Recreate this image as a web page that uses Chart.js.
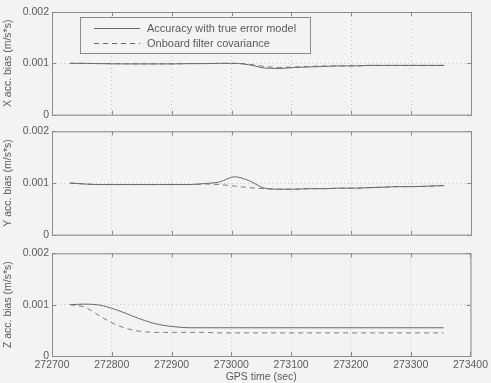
<!DOCTYPE html>
<html lang="en">
<head>
  <meta charset="UTF-8">
  <title>Accelerometer bias</title>
  <script src="https://cdn.jsdelivr.net/npm/chart.js"></script>
  <style>
    * { margin: 0; padding: 0; box-sizing: border-box; }
    body {
      width: 491px;
      height: 383px;
      background: #f3f3f1;
      position: relative;
      overflow: hidden;
      font-family: 'Liberation Sans', Arial, sans-serif;
    }
    .panel { position: absolute; left: 0; width: 491px; }
    #px { top: 0; height: 124px; }
    #py { top: 122px; height: 122px; }
    #pz { top: 244px; height: 139px; }
  </style>
</head>
<body>
  <div class="panel" id="px"><canvas id="chartX"></canvas></div>
  <div class="panel" id="py"><canvas id="chartY"></canvas></div>
  <div class="panel" id="pz"><canvas id="chartZ"></canvas></div>

  <script>
    // GPS time (sec)
    const gpsTime = [272730, 272755, 272780, 272805, 272830, 272855, 272880, 272905, 272930,
      272955, 272980, 273005, 273030, 273055, 273080, 273105, 273130, 273155, 273180,
      273205, 273230, 273255, 273280, 273305, 273330, 273355];

    const xTrue = [0.00100, 0.00100, 0.000995, 0.00099, 0.00099, 0.00099, 0.00099, 0.00099, 0.000995,
      0.000995, 0.00100, 0.00100, 0.00097, 0.00091, 0.00090, 0.00092, 0.00093, 0.00094, 0.00095,
      0.00095, 0.00096, 0.00096, 0.00096, 0.00096, 0.00096, 0.00096];
    const xFilter = [0.00100, 0.00100, 0.000995, 0.000995, 0.00099, 0.00099, 0.00099, 0.00099, 0.000995,
      0.000995, 0.00100, 0.00100, 0.00098, 0.00094, 0.00092, 0.00093, 0.00094, 0.00095, 0.00095,
      0.00095, 0.00096, 0.00096, 0.00096, 0.00096, 0.00096, 0.00096];

    const yTrue = [0.00100, 0.00098, 0.00097, 0.00097, 0.00097, 0.00097, 0.00097, 0.00097, 0.00097,
      0.00099, 0.00102, 0.00112, 0.00104, 0.00090, 0.00088, 0.00088, 0.00089, 0.00089, 0.00090,
      0.00090, 0.00091, 0.00092, 0.00093, 0.00093, 0.00094, 0.00095];
    const yFilter = [0.00100, 0.00098, 0.00097, 0.00097, 0.00097, 0.00097, 0.00097, 0.00097, 0.00097,
      0.00098, 0.00097, 0.00094, 0.00091, 0.00089, 0.00088, 0.00088, 0.00089, 0.00089, 0.00090,
      0.00090, 0.00091, 0.00092, 0.00093, 0.00093, 0.00094, 0.00095];

    const zTrue = [0.00100, 0.00101, 0.00099, 0.00091, 0.00080, 0.00069, 0.00061, 0.00057, 0.00055,
      0.00055, 0.00055, 0.00055, 0.00055, 0.00055, 0.00055, 0.00055, 0.00055, 0.00055, 0.00055,
      0.00055, 0.00055, 0.00055, 0.00055, 0.00055, 0.00055, 0.00055];
    const zFilter = [0.00100, 0.00095, 0.00078, 0.00062, 0.00052, 0.00047, 0.00046, 0.00046, 0.00046,
      0.00046, 0.00045, 0.00045, 0.00045, 0.00045, 0.00045, 0.00045, 0.00045, 0.00045, 0.00045,
      0.00045, 0.00045, 0.00045, 0.00045, 0.00045, 0.00045, 0.00045];

    const yTicks = [0, 0.001, 0.002];
    const seriesLabels = ['Accuracy with true error model', 'Onboard filter covariance'];

    const ink = '#6a6a6a';
    const textColor = '#5a5a5a';
    const font = { family: "'Liberation Sans', Arial, sans-serif", size: 10.5 };

    // box around the plot area with inward tick marks, like matlab
    const framePlugin = {
      id: 'frame',
      afterDraw(chart) {
        const { ctx, chartArea: a, scales } = chart;
        ctx.save();
        ctx.strokeStyle = '#8a8a8a';
        ctx.lineWidth = 1;
        ctx.strokeRect(a.left + 0.5, a.top + 0.5, a.right - a.left, a.bottom - a.top);
        ctx.beginPath();
        scales.x.ticks.forEach(t => {
          const px = Math.round(scales.x.getPixelForValue(t.value)) + 0.5;
          ctx.moveTo(px, a.top); ctx.lineTo(px, a.top + 4);
          ctx.moveTo(px, a.bottom); ctx.lineTo(px, a.bottom - 4);
        });
        scales.y.ticks.forEach(t => {
          const py = Math.round(scales.y.getPixelForValue(t.value)) + 0.5;
          ctx.moveTo(a.left, py); ctx.lineTo(a.left + 4, py);
          ctx.moveTo(a.right, py); ctx.lineTo(a.right - 4, py);
        });
        ctx.stroke();
        ctx.restore();
      }
    };

    // legend box inside top panel
    const legendBox = {
      id: 'legendBox',
      afterDraw(chart) {
        if (!chart.options.plugins.legendBox.show) return;
        const { ctx, chartArea: a } = chart;
        const x0 = a.left + 28, y0 = a.top + 5, w = 230, h = 36;
        ctx.save();
        ctx.fillStyle = '#f3f3f1';
        ctx.fillRect(x0, y0, w, h);
        ctx.strokeStyle = '#8a8a8a';
        ctx.lineWidth = 1;
        ctx.strokeRect(x0 + 0.5, y0 + 0.5, w, h);
        chart.data.datasets.forEach((ds, i) => {
          const ly = y0 + 11 + i * 15;
          ctx.strokeStyle = ink;
          ctx.setLineDash(ds.borderDash || []);
          ctx.beginPath();
          ctx.moveTo(x0 + 14, ly + 0.5);
          ctx.lineTo(x0 + 60, ly + 0.5);
          ctx.stroke();
          ctx.setLineDash([]);
          ctx.fillStyle = textColor;
          ctx.font = '11px ' + font.family;
          ctx.textBaseline = 'middle';
          ctx.fillText(ds.label, x0 + 67, ly + 1);
        });
        ctx.restore();
      }
    };

    function makeChart(id, yTitle, solid, dashed, opts) {
      const toXY = arr => arr.map((v, i) => ({ x: gpsTime[i], y: v }));
      return new Chart(document.getElementById(id), {
        type: 'line',
        data: {
          datasets: [
            { label: seriesLabels[0], data: toXY(solid), borderColor: ink, borderWidth: 1,
              pointRadius: 0, cubicInterpolationMode: 'monotone' },
            { label: seriesLabels[1], data: toXY(dashed), borderColor: '#7a7a7a', borderWidth: 1,
              borderDash: [5, 4], pointRadius: 0, cubicInterpolationMode: 'monotone' }
          ]
        },
        options: {
          responsive: true,
          maintainAspectRatio: false,
          animation: false,
          layout: { padding: { top: opts.top, bottom: opts.bottom, left: 0, right: 20 } },
          plugins: {
            legend: { display: false },
            tooltip: { enabled: false },
            legendBox: { show: !!opts.legend }
          },
          scales: {
            x: {
              type: 'linear',
              min: 272700,
              max: 273400,
              border: { display: false, dash: [1, 3] },
              grid: { color: '#c4c4c4', drawTicks: false },
              ticks: {
                display: !!opts.xLabels,
                stepSize: 100,
                color: textColor,
                font: font,
                maxRotation: 0,
                padding: 3,
                callback: v => String(v)
              },
              title: { display: !!opts.xLabels, text: 'GPS time (sec)', color: textColor, font: font, padding: 0 },
              afterFit: s => { s.height = opts.xLabels ? 27 : 0; }
            },
            y: {
              min: 0,
              max: 0.002,
              border: { display: false, dash: [1, 3] },
              grid: { color: '#c4c4c4', drawTicks: false },
              afterBuildTicks: s => { s.ticks = yTicks.map(v => ({ value: v })); },
              ticks: {
                color: textColor,
                font: font,
                padding: 3,
                callback: v => v === 0 ? '0' : v.toFixed(3)
              },
              title: { display: true, text: yTitle, color: textColor, font: font, padding: 2 },
              afterFit: s => { s.width = 52; }
            }
          }
        },
        plugins: [framePlugin, legendBox]
      });
    }

    makeChart('chartX', 'X acc. bias (m/s*s)', xTrue, xFilter, { top: 12, bottom: 8, legend: true });
    makeChart('chartY', 'Y acc. bias (m/s*s)', yTrue, yFilter, { top: 8, bottom: 6 });
    makeChart('chartZ', 'Z acc. bias (m/s*s)', zTrue, zFilter, { top: 8, bottom: 0, xLabels: true });
  </script>
</body>
</html>
